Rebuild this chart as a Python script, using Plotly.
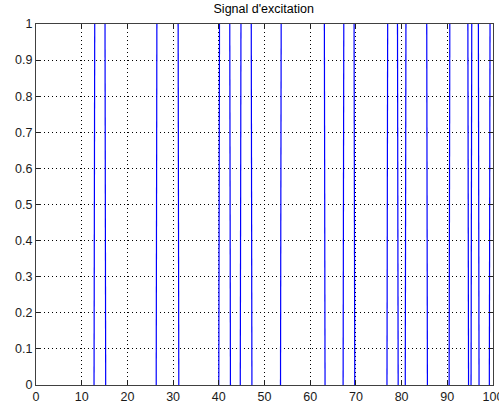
import plotly.graph_objects as go

# Transition instants of the binary excitation signal (starts at 0)
transition_times = [12.7, 15.1, 26.3, 31.1, 40.0, 42.4, 44.7, 47.1, 53.5, 63.1,
                    67.2, 69.6, 76.8, 79.1, 80.8, 85.5, 90.4, 94.5, 95.2, 96.8, 99.2]
initial_level = 0
sample_step = 0.15

x_ticks = [0, 10, 20, 30, 40, 50, 60, 70, 80, 90, 100]
y_ticks = [0, 0.1, 0.2, 0.3, 0.4, 0.5, 0.6, 0.7, 0.8, 0.9, 1]

# The level segments at 0 and 1 coincide with the axes box (hidden under it),
# so only the switching edges are drawn.
xs, ys = [], []
level = initial_level
for t in transition_times:
    new_level = 1 - level
    xs += [t, t + sample_step, None]
    ys += [level, new_level, None]
    level = new_level

fig = go.Figure()
fig.add_trace(go.Scatter(x=xs, y=ys, mode="lines",
                         line=dict(color="#0000FF", width=1.2),
                         hoverinfo="skip", showlegend=False, connectgaps=False))

font = dict(family="Liberation Sans, Arial, sans-serif", size=12.5, color="#1a1a1a")
axis_common = dict(showline=True, linecolor="#404040", linewidth=1, mirror="allticks",
                   ticks="inside", ticklen=5, tickcolor="#202020", tickwidth=1,
                   showgrid=True, gridcolor="#000000", gridwidth=1, griddash="1px,3px",
                   zeroline=False, tickfont=font, automargin=False,
                   ticklabeloverflow="allow")

fig.update_xaxes(range=[0, 100], tickvals=x_ticks, ticktext=[str(v) for v in x_ticks], **axis_common)
fig.update_yaxes(range=[0, 1], tickvals=y_ticks, ticktext=[("%g" % v) for v in y_ticks], **axis_common)

fig.update_layout(
    width=499, height=406,
    margin=dict(l=36, r=6, t=24, b=21, autoexpand=False),
    plot_bgcolor="white", paper_bgcolor="white",
    title=dict(text="Signal d'excitation", x=0.5285, xanchor="center",
               y=0.978, yanchor="middle", yref="container",
               font=dict(family="Liberation Sans, Arial, sans-serif", size=12.5, color="#000000")),
    font=font,
)

fig.write_html("out.html", config={"displayModeBar": False},
               post_script="document.body.style.margin='0';document.body.style.padding='0';")
